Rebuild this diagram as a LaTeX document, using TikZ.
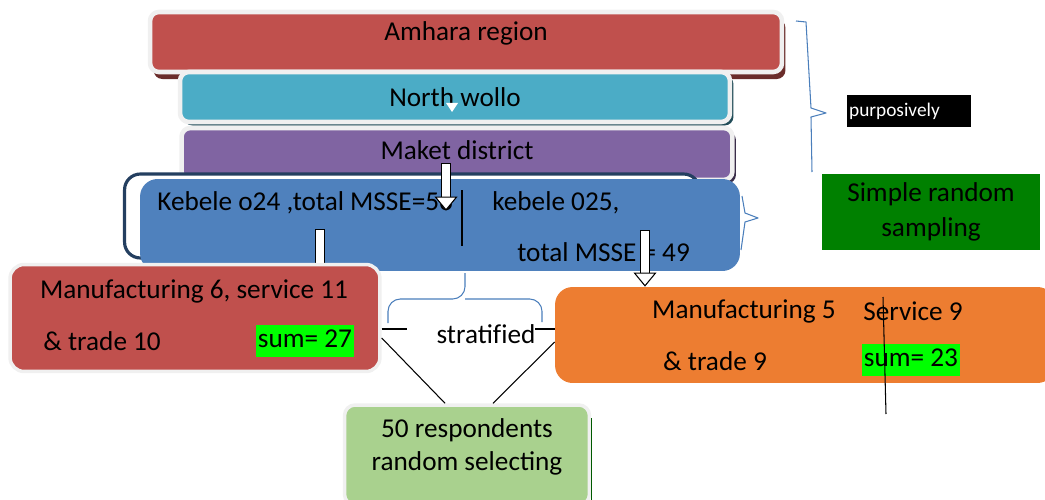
\documentclass[tikz,border=0pt]{standalone}
\usepackage{fontspec}
\setmainfont{Carlito}
\usepackage{tikz}
\usetikzlibrary{arrows.meta, positioning, shadows}
\definecolor{ared}{HTML}{C0504D}
\definecolor{acyan}{HTML}{4BACC6}
\definecolor{apurple}{HTML}{8064A2}
\definecolor{ablue}{HTML}{4F81BD}
\definecolor{anavy}{HTML}{243F60}
\definecolor{aorange}{HTML}{ED7D31}
\definecolor{agreen}{HTML}{008000}
\definecolor{alight}{HTML}{A9D18E}
\definecolor{alime}{HTML}{00FF00}
\definecolor{abrace}{HTML}{4A7EBB}
\tikzset{
  tier/.style={rounded corners=5pt, draw=white!94!black, line width=2.6pt, inner sep=0pt},
  txt/.style={font=\fontsize{15.5}{18.7}\selectfont, inner sep=0pt},
  hilite/.style={txt, fill=alime, inner xsep=1pt, inner ysep=1.5pt, text height=11.5pt, text depth=4pt},
  blockarr/.style={double=white, double distance=4pt, line width=0.6pt, line cap=rect,
    -{Triangle[length=8pt, width=13pt, fill=white]}},
  bracket/.style={abrace, line width=0.6pt, line join=round},
}

\begin{document}
\begin{tikzpicture}[x=0.02cm, y=-0.02cm]
\useasboundingbox (0,0) rectangle (1045,500);
% purposively chosen levels
\node[tier, fill=ared, minimum width=12.64cm, minimum height=1.2cm, txt, text depth=0.45cm,
  drop shadow={shadow xshift=2pt, shadow yshift=-4pt, fill=ared!55!black, opacity=1}]
  (amhara) at (466,42) {Amhara region};
\node[tier, fill=acyan, minimum width=11cm, minimum height=1cm, txt,
  drop shadow={shadow xshift=2pt, shadow yshift=-2pt, fill=acyan!45!black, opacity=1}]
  (wollo) at (455,97) {North wollo};
\fill[white] (446,103) -- (458,103) -- (452,112) -- cycle;
\node[tier, fill=apurple, minimum width=11.02cm, minimum height=1.04cm, txt, text depth=4.5pt,
  drop shadow={shadow xshift=2pt, shadow yshift=-2pt, fill=apurple!45!black, opacity=1}]
  (maket) at (457,154) {Maket district};
% kebele level
\node[draw=anavy, line width=1.8pt, fill=white, rounded corners=9pt,
  minimum width=11.5cm, minimum height=1.68cm] (kframe) at (412,216) {};
\node[fill=ablue, rounded corners=10pt, minimum width=12cm, minimum height=1.84cm] (kebele) at (440,225) {};
\node[txt, anchor=west] (keb24) at (157,203) {Kebele o24 ,total MSSE=56};
\node[txt, anchor=west] (keb25) at (492,203) {kebele 025,};
\node[txt, anchor=west] (keb25tot) at (517,252) {total MSSE = 49};
\draw[line width=0.6pt] (462,190) -- (462,246);
\coordinate (mk) at (446,168);
\draw[blockarr] (mk) -- (mk |- keb24.base);
\coordinate (k24) at (320,234);
\coordinate (k25) at (645,235);
\draw[blockarr] (k24) -- (k24 |- kebele.south) -- ++(0,25);
% strata
\node[fill=ared, draw=white!94!black, line width=2pt, rounded corners=8pt,
  minimum width=7.4cm, minimum height=2.14cm] (mixA) at (195,318) {};
\node[txt] (mixAtop) at (194,291) {Manufacturing 6, service 11};
\node[txt, anchor=west] (mixAbot) at (43,341) {\& trade 10};
\node[hilite] (sumA) at (305,341) {sum= 27};
\node[fill=aorange, rounded corners=10pt, minimum width=10cm, minimum height=1.92cm] (mixB) at (805,335) {};
\node[txt] (mixBman) at (744,311) {Manufacturing 5};
\node[txt] (mixBser) at (913,311) {Service 9};
\node[txt] (mixBtr) at (715,361) {\& trade 9};
\node[hilite] (sumB) at (911,360) {sum= 23};
\draw[line width=0.6pt] (883,297) -- (886,414);
\draw[blockarr] (k25) -- (k25 |- mixB.north);
% stratified
\node[txt] (strat) at (486,334) {stratif\kern0pt ied};
\draw[line width=0.6pt] ([yshift=0.1cm]strat.west -| mixA.east) -- ++(25,0);
\draw[line width=0.6pt] ([yshift=0.1cm]strat.east -| mixB.west) -- ++(-20,0);
\draw[bracket, rounded corners=7pt] (388,323) |- (465,299) -- (465,273);
\draw[bracket, rounded corners=7pt] (542,322) |- (465,299);
% respondents
\node[fill=alight, draw=white!94!black, line width=2pt, rounded corners=6pt,
  minimum width=4.9cm, minimum height=2cm] (resp) at (467,455) {};
\draw[agreen!70!black, line width=0.8pt] ([yshift=-0.3cm]resp.north east) -- (resp.south east);
\node[txt, align=center] (resptxt) at (467,447) {50 respondents\\random selecting};
\draw[line width=0.6pt] ([yshift=-0.08cm]strat.west -| mixA.east) -- ([xshift=-0.44cm]resp.north);
\draw[line width=0.6pt] ([yshift=-0.16cm]strat.east -| mixB.west) -- ([xshift=0.52cm]resp.north);
% sampling labels
\draw[bracket] (796,21) -- (806,22) -- (811,108) -- (826,113) -- (811,117) -- (812,172);
\node[fill=black, text=white, font=\fontsize{11}{13}\selectfont, inner xsep=1pt, inner ysep=0pt,
  text width=2.4cm, align=left, minimum height=0.64cm, anchor=west] (purp) at (847,111) {purposively};
\draw[bracket] (742,196) -- (745,213) -- (758,218) -- (745,222) -- (741,250);
\node[fill=agreen, minimum width=4.36cm, minimum height=1.54cm, align=center,
  font=\fontsize{15.5}{19.5}\selectfont, inner sep=0pt] (srs) at (931,212) {Simple random\\sampling};
\end{tikzpicture}
\end{document}
